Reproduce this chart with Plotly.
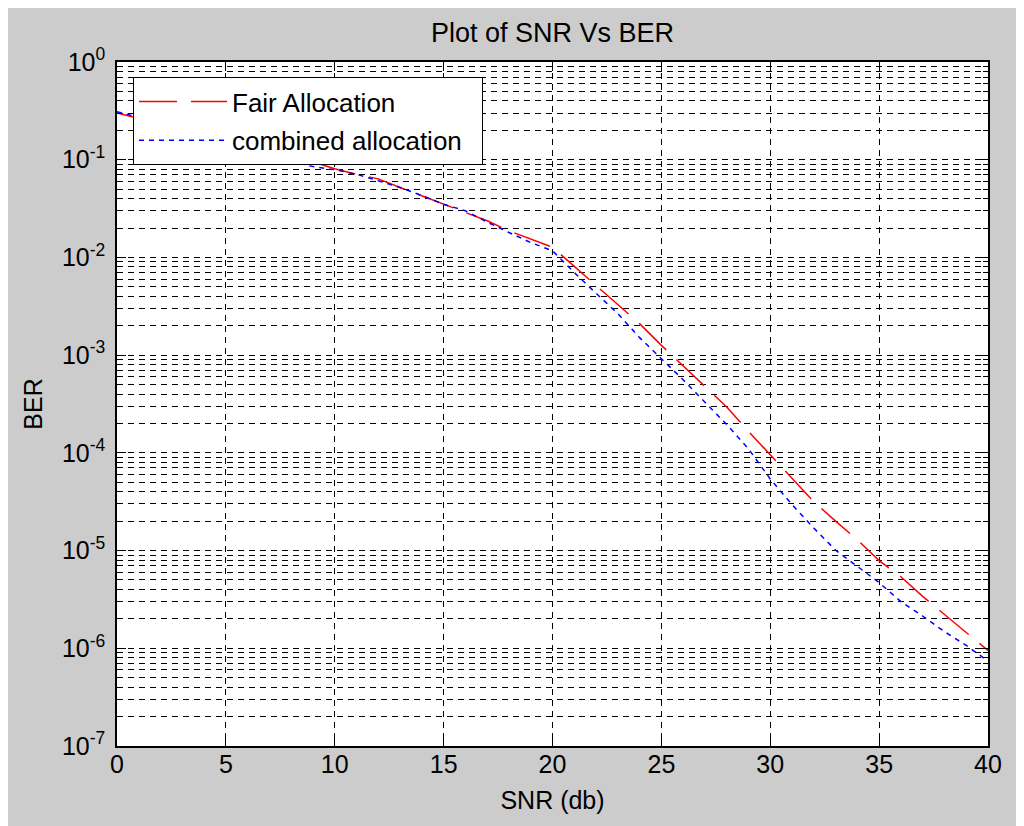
import plotly.graph_objects as go

# ---- data ----
snr_db = list(range(0, 41))

ber_fair = [0.30, 0.265, 0.235, 0.205, 0.18, 0.157, 0.136, 0.118, 0.104, 0.095,
            0.081, 0.071, 0.0637, 0.052, 0.0427, 0.035, 0.029, 0.0237, 0.0187, 0.0154,
            0.0127, 0.0081, 0.0052, 0.0033, 0.0021, 0.00126, 0.00078, 0.00048, 0.000295, 0.000166,
            9.5e-5, 5.5e-5, 3.16e-5, 2.0e-5, 1.29e-5, 7.9e-6, 5.4e-6, 3.4e-6, 2.2e-6, 1.45e-6,
            9.5e-7]

ber_combined = [0.31, 0.27, 0.24, 0.21, 0.183, 0.16, 0.138, 0.118, 0.097, 0.085,
                0.079, 0.071, 0.061, 0.052, 0.043, 0.035, 0.030, 0.023, 0.018, 0.0142,
                0.0117, 0.0070, 0.0043, 0.00266, 0.00151, 0.00093, 0.00056, 0.00033, 0.000195, 0.00011,
                5.4e-5, 2.95e-5, 1.7e-5, 1.01e-5, 6.9e-6, 4.7e-6, 3.0e-6, 2.14e-6, 1.48e-6, 1.07e-6,
                7.4e-7]

series_names = ["Fair Allocation", "combined allocation"]

x_tick_vals = [0, 5, 10, 15, 20, 25, 30, 35, 40]
y_exponents = [-7, -6, -5, -4, -3, -2, -1, 0]
y_tick_vals = [10.0 ** e for e in y_exponents]
y_tick_text = ["10<sup>%d</sup>" % e for e in y_exponents]
y_minor_vals = [k * 10.0 ** e for e in y_exponents[:-1] for k in range(2, 10)]

FONT = "Liberation Sans, Arial, sans-serif"

# page body has an 8px margin, so figure coords = screen coords - 8
OFF = 8
PL, PR, PT, PB = 117 - OFF, 988 - OFF, 62 - OFF, 746 - OFF
W, H = 1024, 826

fig = go.Figure()
fig.add_trace(go.Scatter(
    x=snr_db, y=ber_fair, mode="lines", name=series_names[0],
    line=dict(color="#ff0000", width=1.5, dash="38px,14px"),
    legendgroup="a",
))
fig.add_trace(go.Scatter(
    x=snr_db, y=ber_combined, mode="lines", name=series_names[1] + "\u00a0\u00a0",
    line=dict(color="#0000ff", width=1.5, dash="5px,5px"),
    legendgroup="b",
))

grid_dash = "6px,5px"

fig.update_layout(
    width=W, height=H,
    paper_bgcolor="#cccccc",
    plot_bgcolor="#ffffff",
    margin=dict(l=PL, r=W - PR, t=PT, b=H - PB, autoexpand=False),
    font=dict(family=FONT, size=25, color="#000000"),
    title=dict(text="Plot of SNR Vs BER", x=0.5, xref="paper", xanchor="center",
               y=1 - (33 - OFF) / H, yref="container", yanchor="middle",
               font=dict(family=FONT, size=27, color="#000000")),
    showlegend=True,
    legend=dict(
        x=(133 - 117) / (PR - PL), y=1 - (77 - 62) / (PB - PT), xanchor="left", yanchor="top",
        bgcolor="#ffffff", bordercolor="#000000", borderwidth=1,
        font=dict(family=FONT, size=26, color="#000000"),
        itemwidth=88, tracegroupgap=2,
    ),
)

fig.update_xaxes(
    range=[0, 40], tickmode="array", tickvals=x_tick_vals,
    showline=True, linecolor="#000000", linewidth=1.5, mirror="ticks",
    ticks="inside", ticklen=9, tickcolor="#000000", tickwidth=1,
    showgrid=True, gridcolor="#000000", gridwidth=1.2, griddash=grid_dash,
    zeroline=False, ticklabelstandoff=-5,
    tickfont=dict(family=FONT, size=25, color="#000000"),
    title=dict(text="SNR (db)", standoff=15, font=dict(family=FONT, size=25, color="#000000")),
)

fig.update_yaxes(
    type="log", range=[-7, 0], tickmode="array", tickvals=y_tick_vals, ticktext=y_tick_text,
    showline=True, linecolor="#000000", linewidth=1.5, mirror="ticks",
    ticks="inside", ticklen=9, tickcolor="#000000", tickwidth=1,
    showgrid=True, gridcolor="#000000", gridwidth=1.2, griddash=grid_dash,
    zeroline=False, ticklabelstandoff=5,
    minor=dict(tickmode="array", tickvals=y_minor_vals, ticks="inside", ticklen=5,
               tickcolor="#000000", tickwidth=1,
               showgrid=True, gridcolor="#000000", gridwidth=1.2, griddash=grid_dash),
    tickfont=dict(family=FONT, size=25, color="#000000"),
    title=dict(text="BER", standoff=12, font=dict(family=FONT, size=25, color="#000000")),
)

fig.write_html("out.html")
